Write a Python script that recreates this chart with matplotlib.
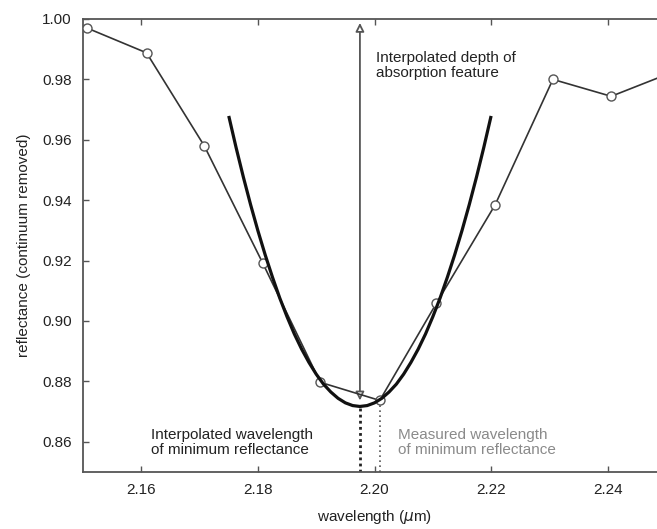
import matplotlib
matplotlib.use("Agg")
import matplotlib.pyplot as plt
from matplotlib.patches import FancyArrowPatch

plt.rcParams['font.family'] = ['Liberation Sans', 'DejaVu Sans']

# measured spectrum (continuum removed)
wavelength = [2.1507, 2.1609, 2.1708, 2.1808, 2.1907, 2.2009, 2.2106, 2.2207, 2.2306, 2.2406, 2.2506]
reflectance = [0.997, 0.9888, 0.958, 0.9193, 0.8797, 0.8737, 0.9058, 0.9385, 0.9800, 0.9744, 0.9820]

# fitted curve
fit_wl = [2.17500, 2.17625, 2.17750, 2.17875, 2.18000, 2.18125, 2.18250, 2.18375, 2.18500,
          2.18625, 2.18750, 2.18875, 2.19000, 2.19125, 2.19250, 2.19375, 2.19500, 2.19625,
          2.19750, 2.19875, 2.20000, 2.20125, 2.20250, 2.20375, 2.20500, 2.20625, 2.20750,
          2.20875, 2.21000, 2.21125, 2.21250, 2.21375, 2.21500, 2.21625, 2.21750, 2.21875,
          2.22000]
fit_refl = [0.9679, 0.9575, 0.9477, 0.9385, 0.9299, 0.9219, 0.9145, 0.9076, 0.9014,
            0.8957, 0.8907, 0.8863, 0.8824, 0.8791, 0.8765, 0.8744, 0.8729, 0.8720,
            0.8717, 0.8720, 0.8729, 0.8744, 0.8765, 0.8791, 0.8824, 0.8863, 0.8907,
            0.8957, 0.9014, 0.9076, 0.9145, 0.9219, 0.9299, 0.9385, 0.9477, 0.9575,
            0.9679]

interp_min_wl = 2.1975
interp_min_refl = 0.8717
meas_min_wl = 2.2009
meas_min_refl = 0.8737
depth_top = 0.9987

xticks = [2.16, 2.18, 2.20, 2.22, 2.24]
yticks = [0.86, 0.88, 0.90, 0.92, 0.94, 0.96, 0.98, 1.00]

W, H = 657, 529
fig = plt.figure(figsize=(W / 100, H / 100), dpi=100)
left, right, top, bottom = 83, 666, 19, 472
ax = fig.add_axes([left / W, 1 - bottom / H, (right - left) / W, (bottom - top) / H])
ax.set_xlim(2.15, 2.25)
ax.set_ylim(0.85, 1.00)

spine_c = '#555555'
for s in ax.spines.values():
    s.set_color(spine_c)
    s.set_linewidth(1.3)

ax.set_xticks(xticks)
ax.set_xticklabels([f"{v:.2f}" for v in xticks])
ax.set_yticks(yticks)
ax.set_yticklabels([f"{v:.2f}" for v in yticks])
ax.tick_params(direction='in', length=4, width=1, color=spine_c, labelsize=11,
               labelcolor='#222222', top=True, right=True, pad=8)

# dotted drop lines
ax.plot([interp_min_wl, interp_min_wl], [0.85, interp_min_refl], color='#222222',
        linestyle=(0, (1, 1.2)), linewidth=2.0, zorder=2)
ax.plot([meas_min_wl, meas_min_wl], [0.85, meas_min_refl], color='#555555',
        linestyle=(0, (1, 2)), linewidth=1.2, zorder=2)

# depth arrow
arr = FancyArrowPatch((interp_min_wl, meas_min_refl), (interp_min_wl, depth_top),
                      arrowstyle='<|-|>,head_length=5,head_width=2.5',
                      mutation_scale=1, color='#555555', linewidth=1.3,
                      shrinkA=0, shrinkB=0, zorder=3)
arr.set_facecolor('white')
ax.add_patch(arr)

# measured spectrum
ax.plot(wavelength, reflectance, color='#333333', linewidth=1.2, marker='o',
        markersize=6.5, markerfacecolor='white', markeredgecolor='#555555',
        markeredgewidth=1.0, zorder=4, clip_on=True)

# fitted curve
ax.plot(fit_wl, fit_refl, color='#111111', linewidth=2.3, zorder=5,
        solid_capstyle='butt', solid_joinstyle='round')

ax.text(2.2003, 0.9895, "Interpolated depth of\nabsorption feature", fontsize=11,
        color='#222222', va='top', ha='left', linespacing=1.1)
ax.text(2.1617, 0.8645, "Interpolated wavelength\nof minimum reflectance", fontsize=11,
        color='#222222', va='top', ha='left', linespacing=1.1)
ax.text(2.2040, 0.8645, "Measured wavelength\nof minimum reflectance", fontsize=11,
        color='#8a8a8a', va='top', ha='left', linespacing=1.1)

ax.set_xlabel("wavelength ($\\mu$m)", fontsize=11, color='#222222', labelpad=8)
ax.set_ylabel("reflectance (continuum removed)", fontsize=11, color='#222222', labelpad=8)

fig.savefig("out.png", dpi=100)
